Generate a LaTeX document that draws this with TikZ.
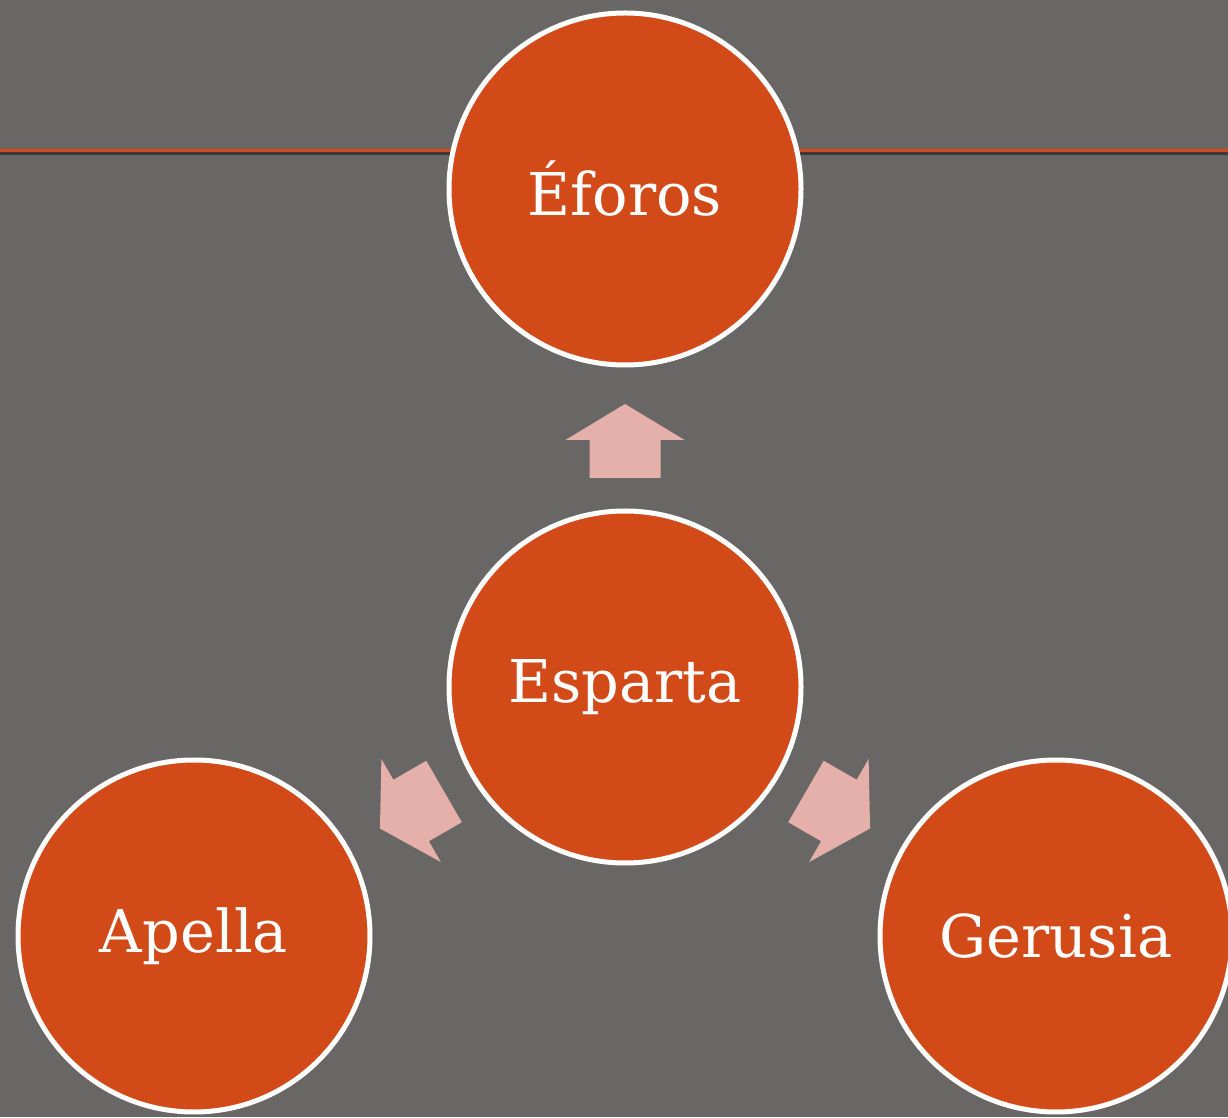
\documentclass[tikz,border=0pt]{standalone}
\usepackage{fontspec}
\setmainfont{DejaVu Serif}
\definecolor{bg}{RGB}{104,103,101}
\definecolor{orng}{RGB}{210,74,24}
\definecolor{pinkarrow}{RGB}{230,176,170}
\definecolor{shadowline}{RGB}{60,58,56}
\tikzset{
  bubble/.style={circle, draw=white, line width=5pt, fill=orng, minimum size=352pt, inner sep=0pt,
    text=white, font=\fontsize{59}{64}\selectfont},
  blockarrow/.style={fill=pinkarrow, draw=none}
}
\newcommand{\blockarrowshape}{(0,37) -- (59.5,1) -- (35.5,1) -- (35.5,-37) -- (-35.5,-37) -- (-35.5,1) -- (-59.5,1) -- cycle}
\begin{document}
\begin{tikzpicture}[x=1pt,y=1pt]
\useasboundingbox (0,0) rectangle (1228,1117);
\fill[bg] (0,0) rectangle (1228,1117);
% title rule
\draw[shadowline, line width=3pt] (0,963.5) -- (1228,963.5);
\draw[orng, line width=2.5pt] (0,966.5) -- (1228,966.5);
% circles
\node[bubble] (eforos) at (625,928) {Éforos};
\node[bubble] (esparta) at (625,430) {Esparta};
\node[bubble] (apella) at (194,181) {Apella};
\node[bubble] (gerusia) at (1056,181) {Gerusia};
% block arrows
\fill[blockarrow, shift={(625,676)}] \blockarrowshape;
\fill[blockarrow, shift={(412,307)}, rotate=120] \blockarrowshape;
\fill[blockarrow, shift={(838,307)}, rotate=-120] \blockarrowshape;
\end{tikzpicture}
\end{document}
